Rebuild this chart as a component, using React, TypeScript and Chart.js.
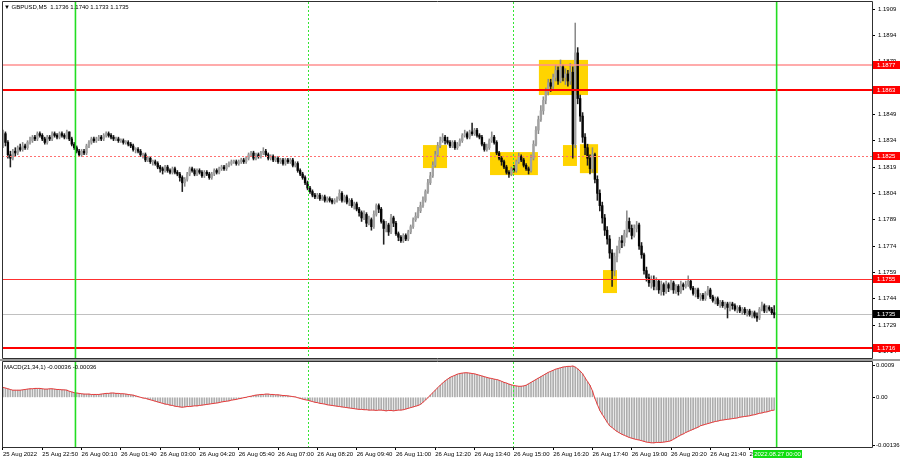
import React, { useEffect, useRef } from 'react';
import { Chart, registerables } from 'chart.js';

Chart.register(...registerables);

// ---------------- DATA ----------------
const symbolTitle = '\u25BC GBPUSD,M5  1.1736 1.1740 1.1733 1.1735';
const macdTitle = 'MACD(21,34,1) -0.00036 -0.00036';
const firstOpen = 1.1831;

const closes = [
  1.1838,1.1833,1.1826,1.1824,1.1828,1.1827,1.1830,1.1829,1.1831,1.1830,
  1.1833,1.1834,1.1836,1.1835,1.1838,1.1837,1.1835,1.1833,1.1836,1.1835,
  1.1838,1.1837,1.1836,1.1838,1.1837,1.1836,1.1839,1.1835,1.1832,1.1830,
  1.1828,1.1826,1.1828,1.1827,1.1831,1.1833,1.1835,1.1834,1.1835,1.1836,
  1.1835,1.1837,1.1838,1.1837,1.1836,1.1835,1.1835,1.1834,1.1834,
  1.1833,1.1833,1.1832,1.1831,1.1829,1.1829,1.1828,1.1826,1.1826,1.1823,
  1.1824,1.1822,1.1822,1.1821,1.1819,1.1818,1.1817,1.1819,1.1817,1.1816,
  1.1818,1.1816,1.1815,1.1813,1.1810,1.1812,1.1815,1.1818,1.1817,1.1815,
  1.1817,1.1816,1.1814,1.1816,1.1815,1.1813,1.1815,1.1817,1.1816,1.1818,
  1.1819,1.1818,1.1820,1.1821,1.1822,1.1822,1.1821,1.1822,1.1823,1.1822,
  1.1824,1.1826,1.1827,1.1824,1.1826,1.1825,1.1827,1.1828,1.1826,1.1824,
  1.1825,1.1823,1.1824,1.1822,1.1823,1.1821,1.1823,1.1822,1.1823,1.1820,
  1.1821,1.1817,1.1815,1.1813,1.1810,1.1807,1.1805,1.1803,1.1802,1.1803,
  1.1801,1.1802,1.1800,1.1801,1.1800,1.1799,1.1800,1.1801,1.1804,
  1.1800,1.1802,1.1799,1.1800,1.1797,1.1798,1.1795,1.1793,1.1790,1.1792,
  1.1787,1.1789,1.1785,1.1792,1.1797,1.1795,1.1788,1.1784,1.1786,1.1782,
  1.1790,1.1787,1.1781,1.1779,1.1777,1.1780,1.1778,1.1782,1.1785,1.1789,
  1.1791,1.1794,1.1797,1.1800,1.1805,1.1810,1.1814,1.1820,1.1826,1.1831,
  1.1834,1.1836,1.1834,1.1833,1.1831,1.1833,1.1830,1.1832,1.1834,1.1837,
  1.1838,1.1836,1.1839,1.1838,1.1840,1.1837,1.1836,1.1832,1.1829,1.1830,
  1.1834,1.1836,1.1833,1.1827,1.1824,1.1822,1.1819,1.1816,1.1815,1.1818,
  1.1817,1.1822,1.1825,1.1823,1.1820,1.1818,1.1817,1.1824,1.1832,1.1840,
  1.1846,1.1851,1.1857,1.1862,1.1867,1.1865,1.1870,1.1874,1.1868,1.1876,
  1.1870,1.1872,1.1868,1.1873,1.1832,1.1884,1.1858,1.1848,1.1836,1.1830,
  1.1824,1.1818,1.1826,1.1812,1.1804,1.1797,1.1790,1.1783,1.1778,1.1770,
  1.1760,1.1768,1.1772,1.1777,1.1776,1.1781,1.1788,1.1784,1.1780,1.1784,
  1.1786,1.1774,1.1769,1.1760,1.1756,1.1753,1.1755,1.1751,1.1754,1.1749,
  1.1752,1.1748,1.1752,1.1750,1.1753,1.1749,1.1751,1.1748,1.1752,1.1751,
  1.1752,1.1754,1.1750,1.1747,1.1749,1.1745,1.1746,1.1744,1.1747,
  1.1749,1.1745,1.1743,1.1744,1.1741,1.1742,1.1740,1.1741,1.1739,1.1741,
  1.1740,1.1738,1.1739,1.1737,1.1738,1.1736,1.1737,1.1735,1.1736,1.1734,
  1.1733,1.1738,1.1740,1.1737,1.1739,1.1738,1.1736,1.1735,
];

const highs = [
  1.1840,1.1839,1.1834,1.1828,1.1829,1.1830,1.1831,1.1832,1.1833,1.1832,
  1.1834,1.1836,1.1837,1.1837,1.1839,1.1839,1.1838,1.1836,1.1837,1.1837,
  1.1839,1.1839,1.1838,1.1839,1.1839,1.1838,1.1840,1.1839,1.1836,1.1833,
  1.1831,1.1829,1.1829,1.1829,1.1832,1.1834,1.1836,1.1836,1.1836,1.1837,
  1.1837,1.1838,1.1839,1.1839,1.1838,1.1837,1.1836,1.1836,1.1835,
  1.1835,1.1834,1.1834,1.1833,1.1832,1.1830,1.1830,1.1829,1.1827,1.1827,
  1.1825,1.1825,1.1823,1.1823,1.1822,1.1820,1.1819,1.1820,1.1820,1.1818,
  1.1819,1.1819,1.1817,1.1816,1.1814,1.1813,1.1816,1.1819,1.1819,1.1818,
  1.1818,1.1818,1.1817,1.1817,1.1817,1.1816,1.1816,1.1818,1.1818,1.1819,
  1.1820,1.1820,1.1821,1.1822,1.1823,1.1823,1.1823,1.1823,1.1824,1.1824,
  1.1825,1.1827,1.1828,1.1828,1.1827,1.1827,1.1828,1.1830,1.1829,1.1827,
  1.1826,1.1826,1.1825,1.1825,1.1824,1.1824,1.1824,1.1824,1.1824,1.1824,
  1.1822,1.1822,1.1818,1.1816,1.1814,1.1811,1.1808,1.1806,1.1804,1.1804,
  1.1804,1.1803,1.1803,1.1802,1.1802,1.1801,1.1801,1.1802,1.1806,
  1.1805,1.1803,1.1803,1.1801,1.1801,1.1799,1.1799,1.1796,1.1794,1.1794,
  1.1793,1.1791,1.1790,1.1794,1.1798,1.1798,1.1796,1.1789,1.1788,1.1787,
  1.1792,1.1791,1.1788,1.1782,1.1780,1.1781,1.1781,1.1783,1.1786,1.1790,
  1.1793,1.1796,1.1799,1.1802,1.1806,1.1812,1.1816,1.1822,1.1828,1.1833,
  1.1836,1.1838,1.1837,1.1836,1.1834,1.1834,1.1834,1.1833,1.1835,1.1838,
  1.1840,1.1839,1.1840,1.1844,1.1841,1.1841,1.1838,1.1837,1.1833,1.1832,
  1.1835,1.1839,1.1837,1.1834,1.1828,1.1825,1.1823,1.1820,1.1817,1.1819,
  1.1820,1.1823,1.1827,1.1826,1.1824,1.1821,1.1819,1.1826,1.1834,1.1842,
  1.1848,1.1854,1.1859,1.1864,1.1869,1.1869,1.1872,1.1877,1.1876,1.1880,
  1.1877,1.1875,1.1874,1.1878,1.1876,1.1901,1.1887,1.1860,1.1850,1.1838,
  1.1832,1.1826,1.1830,1.1827,1.1814,1.1806,1.1799,1.1792,1.1785,1.1780,
  1.1772,1.1770,1.1774,1.1779,1.1780,1.1783,1.1794,1.1790,1.1786,1.1786,
  1.1788,1.1787,1.1776,1.1770,1.1762,1.1758,1.1757,1.1757,1.1756,1.1755,
  1.1754,1.1753,1.1754,1.1753,1.1755,1.1754,1.1752,1.1752,1.1754,1.1753,
  1.1754,1.1757,1.1755,1.1751,1.1750,1.1750,1.1747,1.1747,1.1748,
  1.1751,1.1750,1.1746,1.1745,1.1745,1.1743,1.1743,1.1742,1.1742,1.1742,
  1.1742,1.1741,1.1740,1.1740,1.1739,1.1739,1.1738,1.1738,1.1737,1.1737,
  1.1736,1.1739,1.1742,1.1741,1.1740,1.1740,1.1739,1.1740,
];

const lows = [
  1.1830,1.1831,1.1824,1.1819,1.1823,1.1825,1.1826,1.1828,1.1828,1.1829,
  1.1829,1.1832,1.1833,1.1834,1.1834,1.1836,1.1834,1.1832,1.1832,1.1834,
  1.1834,1.1836,1.1835,1.1835,1.1836,1.1835,1.1835,1.1834,1.1831,1.1829,
  1.1827,1.1825,1.1825,1.1826,1.1826,1.1830,1.1832,1.1833,1.1833,1.1834,
  1.1834,1.1834,1.1836,1.1836,1.1835,1.1834,1.1834,1.1833,1.1833,
  1.1832,1.1832,1.1831,1.1830,1.1828,1.1827,1.1827,1.1825,1.1824,1.1822,
  1.1822,1.1821,1.1820,1.1820,1.1818,1.1816,1.1815,1.1816,1.1816,1.1815,
  1.1815,1.1815,1.1814,1.1811,1.1805,1.1808,1.1811,1.1814,1.1816,1.1814,
  1.1814,1.1815,1.1813,1.1813,1.1814,1.1812,1.1812,1.1814,1.1815,1.1815,
  1.1817,1.1817,1.1817,1.1819,1.1820,1.1821,1.1820,1.1820,1.1821,1.1821,
  1.1821,1.1823,1.1825,1.1823,1.1823,1.1824,1.1824,1.1826,1.1825,1.1823,
  1.1823,1.1822,1.1822,1.1821,1.1821,1.1820,1.1820,1.1821,1.1821,1.1819,
  1.1819,1.1816,1.1814,1.1812,1.1809,1.1806,1.1804,1.1802,1.1801,1.1801,
  1.1800,1.1800,1.1799,1.1799,1.1799,1.1798,1.1798,1.1799,1.1800,
  1.1799,1.1799,1.1798,1.1797,1.1796,1.1795,1.1794,1.1791,1.1788,1.1789,
  1.1785,1.1786,1.1783,1.1784,1.1791,1.1793,1.1787,1.1775,1.1782,1.1780,
  1.1781,1.1785,1.1780,1.1777,1.1776,1.1776,1.1777,1.1777,1.1781,1.1784,
  1.1788,1.1790,1.1793,1.1796,1.1799,1.1804,1.1809,1.1813,1.1819,1.1825,
  1.1830,1.1833,1.1832,1.1832,1.1830,1.1830,1.1829,1.1829,1.1831,1.1833,
  1.1836,1.1835,1.1835,1.1837,1.1837,1.1836,1.1835,1.1831,1.1828,1.1828,
  1.1829,1.1833,1.1832,1.1826,1.1823,1.1820,1.1818,1.1815,1.1813,1.1814,
  1.1816,1.1816,1.1821,1.1822,1.1819,1.1817,1.1815,1.1816,1.1823,1.1831,
  1.1838,1.1845,1.1849,1.1855,1.1860,1.1862,1.1863,1.1868,1.1866,1.1867,
  1.1868,1.1866,1.1865,1.1866,1.1824,1.1830,1.1855,1.1845,1.1833,1.1826,
  1.1820,1.1815,1.1816,1.1810,1.1800,1.1794,1.1787,1.1780,1.1775,1.1767,
  1.1751,1.1757,1.1765,1.1770,1.1773,1.1774,1.1779,1.1782,1.1778,1.1779,
  1.1782,1.1772,1.1767,1.1758,1.1754,1.1751,1.1750,1.1749,1.1749,1.1747,
  1.1746,1.1746,1.1747,1.1748,1.1749,1.1747,1.1747,1.1746,1.1747,1.1749,
  1.1750,1.1751,1.1749,1.1746,1.1745,1.1744,1.1743,1.1743,1.1743,
  1.1746,1.1744,1.1742,1.1741,1.1740,1.1739,1.1739,1.1738,1.1733,1.1737,
  1.1738,1.1737,1.1736,1.1736,1.1735,1.1735,1.1734,1.1734,1.1733,1.1733,
  1.1731,1.1732,1.1737,1.1736,1.1736,1.1737,1.1735,1.1733,
];

const macdValues = [
  0.00028,0.00026,0.00024,0.00022,0.00020,
  0.00020,0.00020,0.00020,0.00021,0.00022,0.00023,
  0.00024,0.00024,0.00025,0.00025,0.00025,0.00024,0.00023,0.00023,0.00024,0.00024,
  0.00023,0.00022,0.00022,0.00021,0.00021,0.00020,
  0.00017,0.00015,0.00013,0.00012,0.00011,
  0.00010,0.00009,0.00009,0.00009,0.00008,0.00008,0.00008,0.00008,
  0.00009,0.00010,0.00011,0.00011,0.00012,0.00012,0.00011,0.00011,
  0.00010,0.00010,0.00009,0.00008,0.00007,0.00006,
  0.00004,0.00002,0.00000,-0.00002,-0.00003,
  -0.00005,-0.00007,-0.00009,-0.00011,-0.00013,-0.00015,-0.00017,
  -0.00019,-0.00020,-0.00022,-0.00023,-0.00025,-0.00026,-0.00027,-0.00028,
  -0.00027,-0.00026,-0.00026,-0.00025,
  -0.00024,-0.00024,-0.00023,-0.00022,-0.00021,-0.00020,
  -0.00019,-0.00018,-0.00017,-0.00016,-0.00015,-0.00013,-0.00012,-0.00011,
  -0.00010,-0.00008,-0.00007,-0.00006,-0.00004,-0.00003,-0.00001,0.00000,
  0.00002,0.00003,0.00005,0.00006,0.00007,0.00008,
  0.00008,0.00009,0.00009,0.00008,0.00008,
  0.00007,0.00007,0.00006,0.00005,0.00005,0.00004,0.00003,
  0.00002,0.00001,-0.00001,-0.00003,
  -0.00005,-0.00007,-0.00008,-0.00010,
  -0.00012,-0.00014,-0.00015,-0.00017,-0.00018,-0.00019,-0.00021,-0.00022,
  -0.00023,-0.00024,-0.00025,-0.00026,-0.00027,-0.00028,-0.00029,-0.00030,-0.00031,-0.00032,-0.00033,-0.00034,
  -0.00034,-0.00035,-0.00035,-0.00036,-0.00036,-0.00036,-0.00037,-0.00036,
  -0.00036,-0.00037,-0.00038,-0.00037,-0.00037,-0.00038,-0.00037,-0.00036,
  -0.00036,-0.00035,-0.00033,-0.00031,-0.00029,
  -0.00027,-0.00025,-0.00023,-0.00020,
  -0.00014,-0.00008,-0.00001,0.00006,
  0.00013,0.00020,0.00027,0.00034,
  0.00040,0.00046,0.00051,0.00056,
  0.00059,0.00062,0.00065,0.00067,
  0.00068,0.00069,0.00069,0.00068,
  0.00067,0.00066,0.00064,0.00062,
  0.00060,0.00058,0.00056,0.00054,
  0.00053,0.00051,0.00050,0.00048,
  0.00045,0.00042,0.00040,0.00037,
  0.00035,0.00033,0.00032,0.00031,
  0.00031,0.00032,0.00034,0.00038,
  0.00042,0.00046,0.00050,0.00054,
  0.00058,0.00062,0.00066,0.00070,
  0.00073,0.00076,0.00079,0.00081,
  0.00083,0.00085,0.00086,0.00087,0.00087,
  0.00088,0.00085,0.00080,0.00074,
  0.00066,0.00055,0.00044,0.00034,
  0.00018,-0.00003,-0.00020,-0.00037,
  -0.00048,-0.00059,-0.00070,-0.00080,
  -0.00085,-0.00091,-0.00096,-0.00100,
  -0.00104,-0.00107,-0.00110,-0.00113,
  -0.00115,-0.00117,-0.00119,-0.00120,
  -0.00122,-0.00124,-0.00126,-0.00127,
  -0.00128,-0.00128,-0.00127,-0.00127,-0.00127,
  -0.00126,-0.00125,-0.00124,-0.00122,
  -0.00118,-0.00114,-0.00110,-0.00106,
  -0.00103,-0.00099,-0.00096,-0.00093,
  -0.00090,-0.00087,-0.00084,-0.00080,
  -0.00078,-0.00076,-0.00074,-0.00072,-0.00070,-0.00068,-0.00067,-0.00065,
  -0.00064,-0.00063,-0.00062,-0.00061,-0.00060,-0.00059,-0.00058,-0.00056,
  -0.00055,-0.00054,-0.00053,-0.00052,-0.00050,-0.00049,-0.00047,-0.00045,
  -0.00044,-0.00042,-0.00041,-0.00039,-0.00037,-0.00036,
];

const timeLabels = [
  '25 Aug 2022','25 Aug 22:50','26 Aug 00:10','26 Aug 01:40','26 Aug 03:00',
  '26 Aug 04:20','26 Aug 05:40','26 Aug 07:00','26 Aug 08:20','26 Aug 09:40',
  '26 Aug 11:00','26 Aug 12:20','26 Aug 13:40','26 Aug 15:00','26 Aug 16:20',
  '26 Aug 17:40','26 Aug 19:00','26 Aug 20:20','26 Aug 21:40','26 Aug 23:00',
];
const barsPerLabel = 16;
const priceTicks = [1.1909,1.1894,1.1879,1.1864,1.1849,1.1834,1.1819,1.1804,1.1789,1.1774,1.1759,1.1744,1.1729,1.1714];
const macdTicks = [0.0009, 0, -0.00136];
const macdTickLabels = ['0.0009', '0.00', '-0.00136'];

// support/resistance levels and current bid
const levelPrices = [1.1877, 1.1863, 1.1825, 1.1755, 1.1716];
const currentPrice = 1.1735;
// signal zones: from bar, to bar, top price, bottom price
const zoneFromBar = [171.0, 198.3, 218.2, 228.0, 234.9, 244.3];
const zoneToBar = [180.8, 217.8, 238.2, 233.7, 242.3, 250.0];
const zoneTop = [1.18315, 1.18275, 1.18800, 1.18315, 1.18320, 1.17603];
const zoneBottom = [1.18184, 1.18144, 1.18600, 1.18196, 1.18155, 1.17472];
// day separators (bar positions) and session markers
const dayLineBars = [29.5, 315];
const sessionLineBars = [124, 207.5];
const nextDayLabel = '2022.08.27 00:00';

// ---------------- LAYOUT / STYLE ----------------
const FONT = "'Liberation Sans', Arial, sans-serif";
const X_MIN = -0.407;
const X_MAX = 353.83;
const levelStyles = [
  { color: '#ff8f8f', width: 1.5, dash: [] as number[] },
  { color: '#ff0000', width: 2, dash: [] as number[] },
  { color: '#ff7070', width: 1, dash: [2, 2] },
  { color: '#ff3030', width: 1, dash: [] as number[] },
  { color: '#ff0000', width: 2, dash: [] as number[] },
];

function drawVLines(chart: any) {
  const { ctx, chartArea: a, scales } = chart;
  const x = scales.x;
  ctx.save();
  ctx.beginPath();
  ctx.rect(a.left, a.top, a.right - a.left, a.bottom - a.top);
  ctx.clip();
  sessionLineBars.forEach((b) => {
    const px = Math.round(x.getPixelForValue(b)) + 0.5;
    ctx.strokeStyle = '#33e633';
    ctx.lineWidth = 1;
    ctx.setLineDash([2, 2]);
    ctx.beginPath();
    ctx.moveTo(px, a.top);
    ctx.lineTo(px, a.bottom);
    ctx.stroke();
  });
  ctx.setLineDash([]);
  dayLineBars.forEach((b) => {
    const px = x.getPixelForValue(b);
    ctx.strokeStyle = '#22dd22';
    ctx.lineWidth = 1.6;
    ctx.beginPath();
    ctx.moveTo(px, a.top);
    ctx.lineTo(px, a.bottom);
    ctx.stroke();
  });
  ctx.restore();
}

function drawFrame(chart: any) {
  const { ctx, chartArea: a } = chart;
  ctx.save();
  ctx.strokeStyle = '#303030';
  ctx.lineWidth = 1;
  ctx.beginPath();
  ctx.moveTo(a.left + 0.5, a.top - 0.5);
  ctx.lineTo(a.right + 0.5, a.top - 0.5);
  ctx.lineTo(a.right + 0.5, a.bottom + 0.5);
  ctx.lineTo(a.left + 0.5, a.bottom + 0.5);
  ctx.closePath();
  ctx.stroke();
  ctx.restore();
}

function priceBox(ctx: any, left: number, yc: number, text: string, bg: string) {
  ctx.fillStyle = bg;
  ctx.fillRect(left, Math.round(yc) - 4, 27, 8);
  ctx.fillStyle = '#ffffff';
  ctx.font = `6px ${FONT}`;
  ctx.textBaseline = 'middle';
  ctx.textAlign = 'left';
  ctx.fillText(text, left + 4, Math.round(yc));
}

const noPadY = (s: any) => {
  s.width = 28;
  s.paddingTop = 0;
  s.paddingBottom = 0;
};

const mainOverlay = {
  id: 'mainOverlay',
  beforeDatasetsDraw(chart: any) {
    const { ctx, chartArea: a, scales } = chart;
    const x = scales.x, y = scales.y;
    ctx.save();
    ctx.beginPath();
    ctx.rect(a.left, a.top, a.right - a.left, a.bottom - a.top);
    ctx.clip();
    ctx.fillStyle = '#ffd400';
    zoneFromBar.forEach((b0, k) => {
      const x0 = x.getPixelForValue(b0);
      const x1 = x.getPixelForValue(zoneToBar[k]);
      const y0 = y.getPixelForValue(zoneTop[k]);
      const y1 = y.getPixelForValue(zoneBottom[k]);
      ctx.fillRect(x0, y0, x1 - x0, y1 - y0);
    });
    const cy = Math.round(y.getPixelForValue(currentPrice)) + 0.5;
    ctx.strokeStyle = '#c0c0c0';
    ctx.lineWidth = 1;
    ctx.beginPath();
    ctx.moveTo(a.left, cy);
    ctx.lineTo(a.right, cy);
    ctx.stroke();
    ctx.restore();
  },
  afterDatasetsDraw(chart: any) {
    const { ctx, chartArea: a, scales } = chart;
    const y = scales.y;
    ctx.save();
    ctx.beginPath();
    ctx.rect(a.left, a.top, a.right - a.left, a.bottom - a.top);
    ctx.clip();
    levelPrices.forEach((p, k) => {
      const st = levelStyles[k];
      let py = y.getPixelForValue(p);
      py = st.width % 2 === 1 ? Math.round(py) + 0.5 : Math.round(py);
      ctx.strokeStyle = st.color;
      ctx.lineWidth = st.width;
      ctx.setLineDash(st.dash);
      ctx.beginPath();
      ctx.moveTo(a.left, py);
      ctx.lineTo(a.right, py);
      ctx.stroke();
    });
    ctx.setLineDash([]);
    ctx.restore();
    drawVLines(chart);
  },
  afterDraw(chart: any) {
    const { ctx, chartArea: a, scales } = chart;
    const y = scales.y;
    drawFrame(chart);
    ctx.save();
    levelPrices.forEach((p) => {
      priceBox(ctx, a.right + 1, y.getPixelForValue(p), p.toFixed(4), '#ff0000');
    });
    priceBox(ctx, a.right + 1, y.getPixelForValue(currentPrice), currentPrice.toFixed(4), '#000000');
    ctx.fillStyle = '#000000';
    ctx.font = `6px ${FONT}`;
    ctx.textBaseline = 'middle';
    ctx.textAlign = 'left';
    ctx.fillText(symbolTitle, 4, 7);
    ctx.restore();
  },
};

const macdOverlay = {
  id: 'macdOverlay',
  afterDatasetsDraw(chart: any) {
    drawVLines(chart);
  },
  afterDraw(chart: any) {
    const { ctx, chartArea: a, scales } = chart;
    const x = scales.x;
    drawFrame(chart);
    ctx.save();
    ctx.fillStyle = '#000000';
    ctx.font = `6px ${FONT}`;
    ctx.textBaseline = 'middle';
    ctx.textAlign = 'left';
    ctx.fillText(macdTitle, 4, a.top + 5);
    const px = x.getPixelForValue(dayLineBars[1]);
    ctx.fillStyle = '#11dd11';
    ctx.fillRect(Math.round(px) - 24, a.bottom + 3, 49, 8);
    ctx.fillStyle = '#ffffff';
    ctx.textAlign = 'center';
    ctx.fillText(nextDayLabel, Math.round(px) + 0.5, a.bottom + 7);
    ctx.restore();
  },
};

export default function App() {
  const mainRef = useRef<HTMLCanvasElement>(null);
  const macdRef = useRef<HTMLCanvasElement>(null);

  useEffect(() => {
    document.body.style.margin = '0';
    const idx = closes.map((_, i) => i);
    const opens = closes.map((_, i) => (i === 0 ? firstOpen : closes[i - 1]));
    const up = closes.map((c, i) => c >= opens[i]);

    const main = new Chart(mainRef.current as HTMLCanvasElement, {
      type: 'bar',
      data: {
        datasets: [
          {
            label: 'body',
            data: idx.map((i) => ({ x: i, y: [opens[i], closes[i]] })) as any,
            backgroundColor: up.map((u) => (u ? '#a2a2a2' : '#050505')),
            borderWidth: 0,
            barThickness: 1.7,
            minBarLength: 1,
            grouped: false,
            order: 1,
          } as any,
          {
            label: 'wick',
            data: idx.map((i) => ({ x: i, y: [lows[i], highs[i]] })) as any,
            backgroundColor: up.map((u) => (u ? '#8a8a8a' : '#202020')),
            borderWidth: 0,
            barThickness: 0.9,
            grouped: false,
            order: 2,
          } as any,
        ],
      },
      options: {
        animation: false,
        responsive: false,
        events: [],
        layout: { padding: { left: 2, top: 2, bottom: 1, right: 0 } },
        plugins: { legend: { display: false }, tooltip: { enabled: false } },
        scales: {
          x: { type: 'linear', display: false, min: X_MIN, max: X_MAX, offset: false },
          y: {
            type: 'linear',
            position: 'right',
            min: 1.171021,
            max: 1.191299,
            afterBuildTicks: (s: any) => {
              s.ticks = priceTicks.map((v) => ({ value: v }));
            },
            afterFit: noPadY,
            ticks: {
              autoSkip: false,
              padding: 3,
              color: '#000000',
              font: { size: 6, family: FONT },
              callback: (v: any) => Number(v).toFixed(4),
            },
            grid: { drawOnChartArea: false, drawTicks: true, tickLength: 3, color: '#000000' },
            border: { display: false },
          },
        },
      } as any,
      plugins: [mainOverlay],
    });

    const macd = new Chart(macdRef.current as HTMLCanvasElement, {
      type: 'bar',
      data: {
        datasets: [
          {
            type: 'line',
            label: 'signal',
            data: idx.map((i) => ({ x: i, y: macdValues[i] })) as any,
            borderColor: '#e83a3a',
            borderWidth: 1,
            pointRadius: 0,
            tension: 0,
            order: 1,
          } as any,
          {
            type: 'bar',
            label: 'macd',
            data: idx.map((i) => ({ x: i, y: macdValues[i] })) as any,
            backgroundColor: '#adadad',
            borderWidth: 0,
            barThickness: 1,
            grouped: false,
            order: 2,
          } as any,
        ],
      },
      options: {
        animation: false,
        responsive: false,
        events: [],
        layout: { padding: { left: 2, top: 1, bottom: 0, right: 0 } },
        plugins: { legend: { display: false }, tooltip: { enabled: false } },
        scales: {
          x: {
            type: 'linear',
            position: 'bottom',
            min: X_MIN,
            max: X_MAX,
            offset: false,
            afterBuildTicks: (s: any) => {
              s.ticks = timeLabels.map((_, k) => ({ value: k * barsPerLabel }));
            },
            afterFit: (s: any) => {
              s.height = 13;
              s.paddingLeft = 0;
              s.paddingRight = 0;
            },
            ticks: {
              autoSkip: false,
              maxRotation: 0,
              minRotation: 0,
              align: 'start',
              padding: 1,
              color: '#000000',
              font: { size: 6, family: FONT },
              callback: (_v: any, i: number) => timeLabels[i],
            },
            grid: { drawOnChartArea: false, drawTicks: true, tickLength: 3, color: '#000000', offset: false },
            border: { display: false },
          },
          y: {
            type: 'linear',
            position: 'right',
            min: -0.001398,
            max: 0.000993,
            afterBuildTicks: (s: any) => {
              s.ticks = macdTicks.map((v) => ({ value: v }));
            },
            afterFit: noPadY,
            ticks: {
              autoSkip: false,
              padding: 1,
              color: '#000000',
              font: { size: 6, family: FONT },
              callback: (_v: any, i: number) => macdTickLabels[i],
            },
            grid: { drawOnChartArea: false, drawTicks: true, tickLength: 3, color: '#000000' },
            border: { display: false },
          },
        },
      } as any,
      plugins: [macdOverlay],
    });

    return () => {
      main.destroy();
      macd.destroy();
    };
  }, []);

  return (
    <div style={{ position: 'relative', width: 900, height: 460, background: '#ffffff', overflow: 'hidden' }}>
      <canvas ref={mainRef} width={900} height={359} style={{ position: 'absolute', left: 0, top: 0, width: 900, height: 359 }} />
      <div style={{ position: 'absolute', left: 0, top: 359, width: 900, height: 2, background: '#9c9c9c' }} />
      <canvas ref={macdRef} width={900} height={99} style={{ position: 'absolute', left: 0, top: 361, width: 900, height: 99 }} />
    </div>
  );
}
